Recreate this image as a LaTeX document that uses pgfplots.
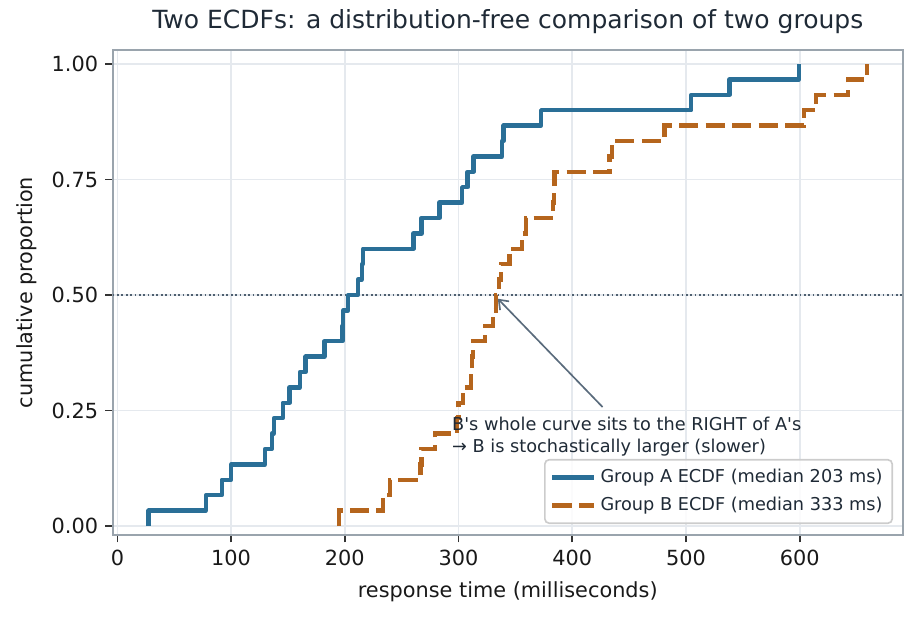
\documentclass[border=0pt]{standalone}
\usepackage{fontspec}
\setmainfont{DejaVu Sans}
\usepackage{pgfplots}
\pgfplotsset{compat=1.18}
\usetikzlibrary{arrows.meta}
\definecolor{cA}{HTML}{2A6F97}
\definecolor{cB}{HTML}{B5651D}
\definecolor{gridc}{HTML}{E5E9EE}
\definecolor{framec}{HTML}{9AA4AD}
\definecolor{slate}{HTML}{4F6070}
\definecolor{arrowc}{HTML}{5A6B7C}
\definecolor{txt}{HTML}{1F2A36}
\begin{document}
\begin{tikzpicture}
\useasboundingbox (-54.1pt,-40.3pt) rectangle (386.5pt,256.8pt);
\begin{axis}[
  at={(0,0)}, anchor=south west,
  scale only axis,
  width=379.2pt, height=232.8pt,
  xmin=-4.1, xmax=690.6, ymin=-0.0195, ymax=1.0303,
  xtick={0,100,200,300,400,500,600},
  ytick={0,0.25,0.5,0.75,1},
  yticklabel style={/pgf/number format/.cd, fixed, fixed zerofill, precision=2},
  /pgf/number format/assume math mode=true,
  tick label style={font=\fontsize{10}{12}\selectfont, color=black!90},
  grid=major,
  major grid style={gridc, line width=0.8pt},
  axis line style={framec, line width=1pt},
  tick align=outside,
  tick pos=left,
  major tick length=3.5pt,
  major tick style={black!80, line width=0.8pt},
  title={Two ECDFs: a distribution-free comparison of two groups},
  title style={at={(axis description cs:0.5,1.0184)}, anchor=base, font=\fontsize{12}{14}\selectfont, text=txt},
  xlabel={response time (milliseconds)},
  xlabel style={at={(axis description cs:0.5,-0.128)}, anchor=base, font=\fontsize{10}{12}\selectfont, text=black!90},
  ylabel={cumulative proportion},
  ylabel style={at={(axis description cs:-0.1015,0.5)}, anchor=base, font=\fontsize{10}{12}\selectfont, text=black!90},
  legend style={at={(axis description cs:1,0)}, anchor=south east, xshift=-4.7pt, yshift=5.3pt,
    draw=black!20, line width=0.8pt, rounded corners=2pt, fill=white, fill opacity=0.85, text opacity=1,
    font=\fontsize{8.5}{10}\selectfont, text=txt, inner xsep=2.6pt, inner ysep=2.5pt, row sep=1.5pt},
  legend cell align=left,
  legend image code/.code={\draw[#1] (0pt,0pt) -- (20pt,0pt);},
]
\addplot[slate, line width=0.8pt, dash pattern=on 0.8pt off 1.3pt, forget plot] coordinates {(-4.1,0.5) (690.6,0.5)};
\addplot[const plot, cA, line width=2.1pt, line join=round] coordinates {
(27.5,0) (27.5,0.0333) (77.8,0.0667) (91.8,0.1) (100,0.1333) (129.8,0.1667) (135.7,0.2) (137.5,0.2333)
(145.4,0.2667) (151.3,0.3) (160.5,0.3333) (165.5,0.3667) (182,0.4) (197.8,0.4333) (198.6,0.4667)
(203,0.5) (211.4,0.5333) (215,0.5667) (216,0.6) (260.3,0.6333) (267.5,0.6667) (283.2,0.7)
(303.2,0.7333) (308,0.7667) (313,0.8) (338.2,0.8333) (339.6,0.8667) (372.6,0.9) (504.6,0.9333)
(538.3,0.9667) (599.2,1)};
\addlegendentry{Group A ECDF (median 203 ms)}
\addplot[const plot, cB, line width=2.1pt, dash pattern=on 9.2pt off 3.5pt] coordinates {
(194.7,0) (194.7,0.0333) (233.3,0.0667) (239.8,0.1) (266.5,0.1333) (267.5,0.1667) (279.5,0.2)
(298.8,0.2333) (299.8,0.2667) (303.7,0.3) (310.8,0.3333) (311.8,0.3667) (312.8,0.4) (323,0.4333)
(330,0.4667) (333,0.5) (335.3,0.5333) (337.4,0.5667) (344.8,0.6) (355.6,0.6333) (359.4,0.6667)
(382.8,0.7) (384,0.7333) (384.5,0.7667) (432.7,0.8) (435,0.8333) (481,0.8667) (603.5,0.9)
(614.4,0.9333) (642.2,0.9667) (659,1)};
\addlegendentry{Group B ECDF (median 333 ms)}
\draw[arrowc, line width=0.8pt, -{Straight Barb[length=4pt,width=6pt]}] (axis cs:426.6,0.2576) -- (axis cs:334.5,0.492);
\node[anchor=base west, font=\fontsize{8.5}{10}\selectfont, text=txt, inner sep=0pt] at (axis cs:294,0.2067) {B\textquotesingle s whole curve sits to the RIGHT of A\textquotesingle s};
\node[anchor=base west, font=\fontsize{8.5}{10}\selectfont, text=txt, inner sep=0pt] at (axis cs:294,0.1591) {→ B is stochastically larger (slower)};
\end{axis}
\end{tikzpicture}
\end{document}
